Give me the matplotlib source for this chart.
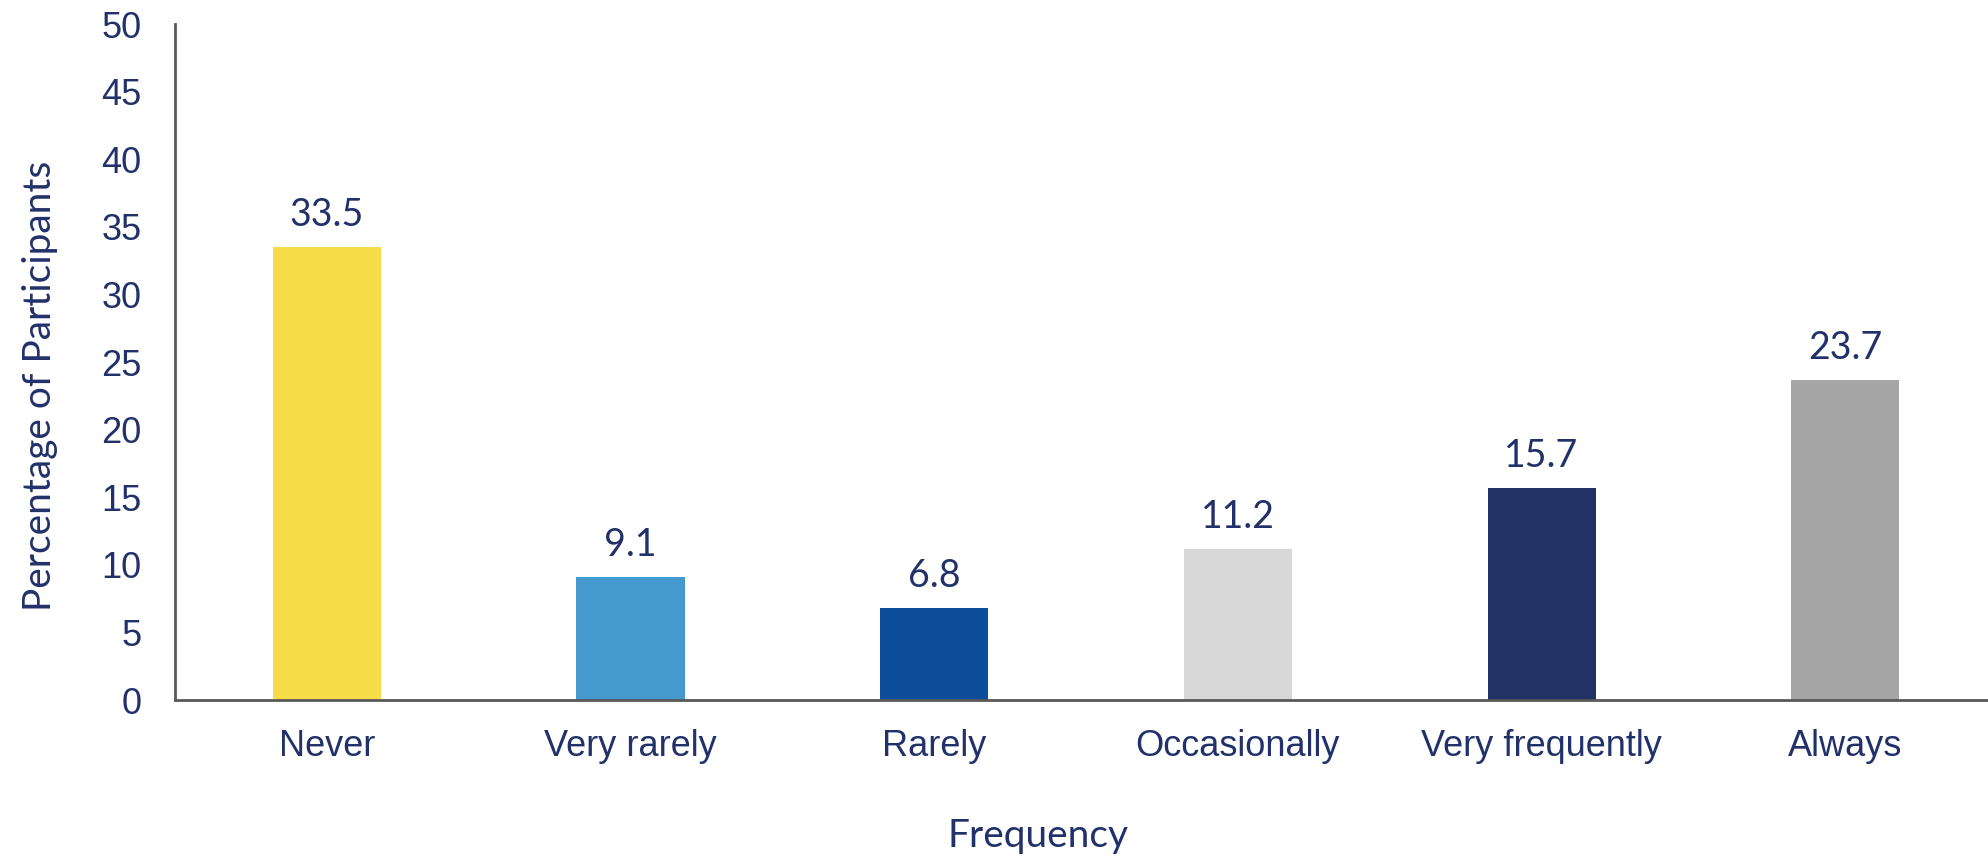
import matplotlib
matplotlib.use("Agg")
import matplotlib.pyplot as plt

categories = ["Never", "Very rarely", "Rarely", "Occasionally", "Very frequently", "Always"]
percentages = [33.5, 9.1, 6.8, 11.2, 15.7, 23.7]
bar_colors = ["#F7DC4A", "#4499CF", "#0C4E9A", "#D8D8D8", "#223265", "#A6A6A6"]
y_ticks = [0, 5, 10, 15, 20, 25, 30, 35, 40, 45, 50]

TEXT = "#22316A"
AXIS = "#595959"
W, H, DPI = 1988, 858, 100

fig = plt.figure(figsize=(W / DPI, H / DPI), dpi=DPI)
ax = fig.add_axes([175 / W, (H - 700) / H, (1988 - 175) / W, (700 - 24) / H])

x = list(range(len(categories)))
bars = ax.bar(x, percentages, width=0.356, color=bar_colors, zorder=2)

for rect, val in zip(bars, percentages):
    ax.annotate(f"{val:.1f}", (rect.get_x() + rect.get_width() / 2, val),
                xytext=(0, 10), textcoords="offset points",
                ha="center", va="bottom", fontsize=27, color=TEXT,
                family="Lato")

ax.set_xlim(-0.5, 5.47)
ax.set_ylim(0, 50)
ax.set_yticks(y_ticks)
ax.set_xticks(x)
ax.set_xticklabels(categories)

for side in ("top", "right"):
    ax.spines[side].set_visible(False)
for side in ("left", "bottom"):
    ax.spines[side].set_color(AXIS)
    ax.spines[side].set_linewidth(2)

ax.tick_params(axis="y", length=0, pad=24, labelsize=26, labelcolor=TEXT)
ax.tick_params(axis="x", length=0, pad=21, labelsize=26, labelcolor=TEXT)
for lbl in ax.get_xticklabels() + ax.get_yticklabels():
    lbl.set_family("Liberation Sans")

fig.text(40 / W, 1 - 386 / H, "Percentage of Participants", rotation=90,
         ha="center", va="center", fontsize=28, color=TEXT, family="Lato")
fig.text(1038 / W, 1 - 847 / H, "Frequency", ha="center", va="baseline",
         fontsize=28, color=TEXT, family="Lato")

fig.savefig("out.png", dpi=DPI, facecolor="white")
